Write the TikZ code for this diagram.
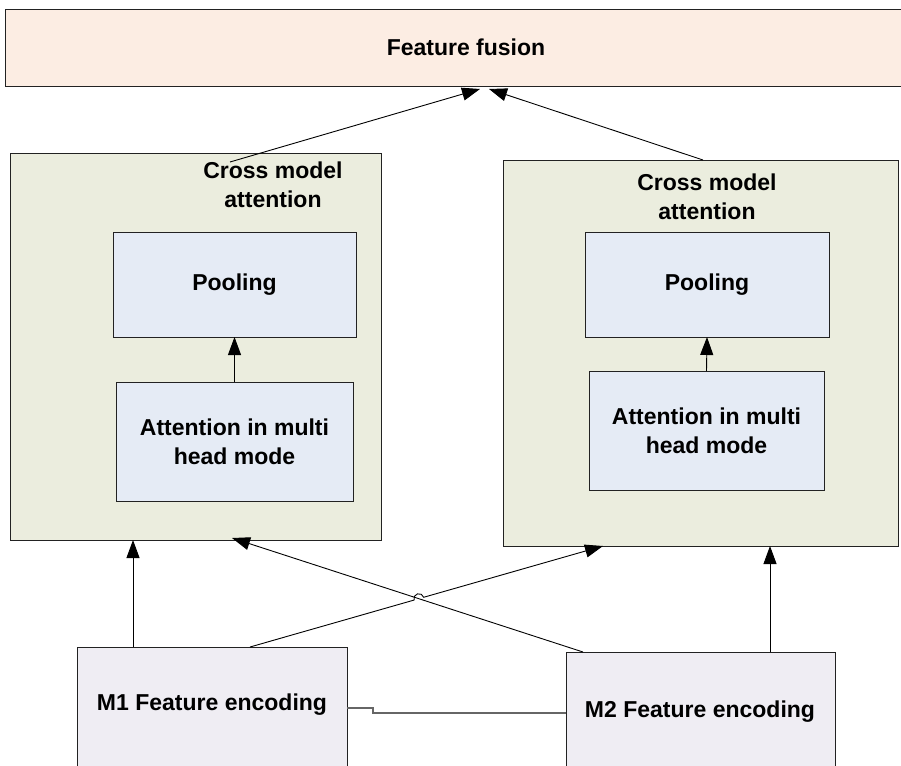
\documentclass[tikz,border=0pt]{standalone}
\usepackage{fontspec}
\setmainfont{Liberation Sans}
\usetikzlibrary{arrows.meta,calc,intersections}

\definecolor{fusionfill}{HTML}{FCEDE3}
\definecolor{groupfill}{HTML}{EBEDDE}
\definecolor{innerfill}{HTML}{E5EBF5}
\definecolor{encfill}{HTML}{EFEDF3}
\definecolor{edgecol}{HTML}{222222}

\tikzset{
  box/.style={draw=edgecol, line width=1pt, inner sep=0pt, outer sep=0pt},
  txt/.style={font=\fontsize{23}{29}\selectfont\bfseries, align=center},
  arr/.style={draw=black, line width=0.9pt, -{Triangle[length=18pt,width=13pt]}},
  link/.style={draw=black!60, line width=1.2pt},
}

\begin{document}
\begin{tikzpicture}[x=1pt,y=1pt]
\useasboundingbox (0,0) rectangle (901,-765);
\clip (0,0) rectangle (901,-765);

% top fusion bar
\node[box, fill=fusionfill, minimum width=900, minimum height=77, anchor=north west] (fusion) at (5,-10) {};
\node[txt] (fusiontxt) at (466,-47) {Feature fusion};

% two attention groups
\node[box, fill=groupfill, minimum width=371, minimum height=387, anchor=north west] (lg) at (10,-153) {};
\node[box, fill=groupfill, minimum width=395, minimum height=386, anchor=north west] (rg) at (503,-160) {};
\node[txt] (lgt) at (273,-185) {Cross model\\attention};
\node[txt] (rgt) at (707,-197) {Cross model\\attention};

\node[box, fill=innerfill, minimum width=243, minimum height=105, anchor=north west] (lpool) at (113,-232) {};
\node[txt] at (lpool.center) {Pooling};
\node[box, fill=innerfill, minimum width=237, minimum height=119, anchor=north west] (latt) at (116,-382) {};
\node[txt] at (latt.center) {Attention in multi\\head mode};

\node[box, fill=innerfill, minimum width=244, minimum height=105, anchor=north west] (rpool) at (585,-232) {};
\node[txt] at (rpool.center) {Pooling};
\node[box, fill=innerfill, minimum width=235, minimum height=119, anchor=north west] (ratt) at (589,-371) {};
\node[txt] at (ratt.center) {Attention in multi\\head mode};

% encoders
\node[box, fill=encfill, minimum width=270, minimum height=122, anchor=north west] (m1) at (77,-647) {};
\node[txt] (m1t) at (212,-705) {M1 Feature encoding};
\node[box, fill=encfill, minimum width=269, minimum height=122, anchor=north west] (m2) at (566,-652) {};
\node[txt] (m2t) at (700,-712) {M2 Feature encoding};

% connector end points
\coordinate (lgtop) at (230,-162);
\coordinate (rgtop) at (703,-160);
\coordinate (fl) at (480,-89);
\coordinate (fr) at (489,-89);
\coordinate (m1a) at (133,-647);
\coordinate (m1b) at (250,-647);
\coordinate (m2a) at (583,-652);
\coordinate (m2b) at (770,-652);
\coordinate (lga) at (133,-540);
\coordinate (lgb) at (232,-538);
\coordinate (rga) at (603,-546);
\coordinate (rgb) at (770,-546);

% into the fusion bar
\draw[arr] (lgtop) -- (fl);
\draw[arr] (rgtop) -- (fr);

% inside the groups
\draw[arr] (latt.north) -- (lpool.south);
\draw[arr] (ratt.north) -- (rpool.south);

% encoders to groups
\draw[arr] (m1a) -- (lga);
\draw[arr] (m2b) -- (rgb);
\draw[arr] (m2a) -- (lgb);

\path[name path=pa] (m1b) -- (rga);
\path[name path=pb] (m2a) -- (lgb);
\path[name intersections={of=pa and pb, by=hop}];
\draw[arr] (m1b) -- ($(hop)!5pt!(m1b)$) arc[start angle=196.1, end angle=16.1, radius=5pt] -- (rga);

% link between the encoders
\draw[link] (m1.east) -- ++(26,0) |- (m2.west);
\end{tikzpicture}
\end{document}
